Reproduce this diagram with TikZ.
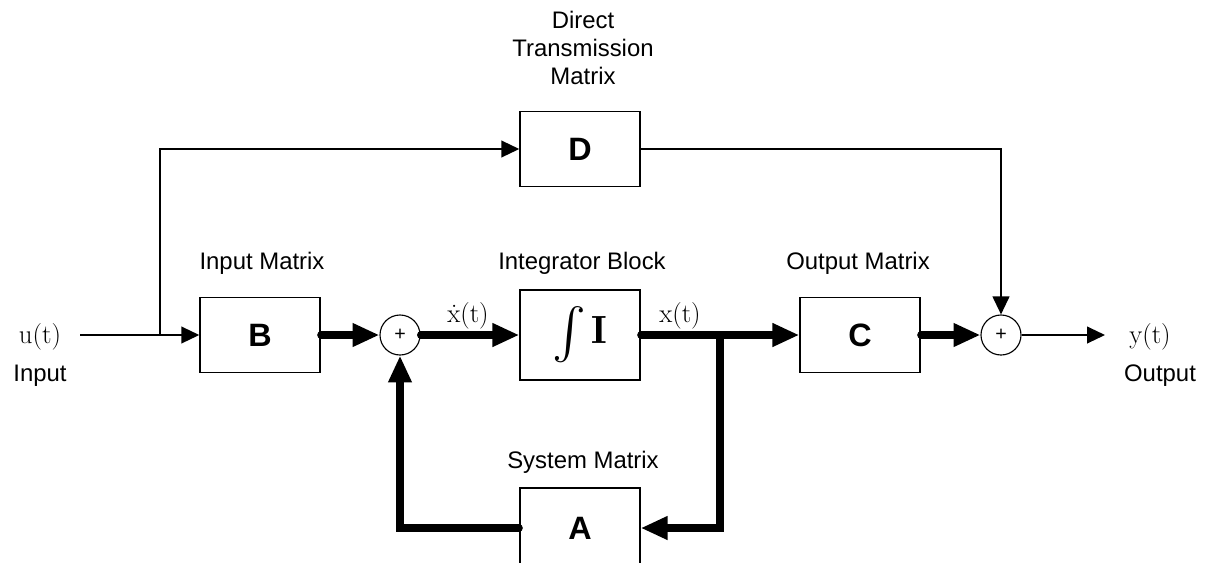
\documentclass[tikz,border=0pt]{standalone}
\usepackage{amsmath}
\usepackage{graphicx}
\usepackage{fontspec}
\setsansfont{Liberation Sans}
\usetikzlibrary{arrows.meta}
\begin{document}
\begin{tikzpicture}[x=0.025cm,y=-0.025cm,
  blk/.style={draw, line width=1pt, minimum width=3cm, minimum height=1.875cm, inner sep=0pt,
     font=\sffamily\bfseries\fontsize{23}{26}\selectfont},
  sumn/.style={draw, circle, minimum size=1cm, inner sep=0pt, line width=0.8pt,
     font=\sffamily\fontsize{14}{14}\selectfont},
  lbl/.style={font=\sffamily\fontsize{17}{20}\selectfont, inner sep=0pt},
  sig/.style={font=\fontsize{19}{22}\selectfont, inner sep=0pt},
  thinarr/.style={line width=1.2pt, -{Triangle[length=0.45cm,width=0.42cm]}},
  bus/.style={line width=5pt, line cap=round, -{Triangle[length=0.67cm,width=0.55cm]}}]
\useasboundingbox (0,0) rectangle (1210,562);
\clip (0,0) rectangle (1210,562);
% blocks
\node[blk] (B) at (260,335) {B};
\node[blk] (D) at (580,149) {D};
\node[blk, minimum height=2.25cm] (I) at (580,335) {\raisebox{-3pt}{\scalebox{1.45}{\fontsize{36}{40}\selectfont$\int$}}\,{\fontsize{28}{30}\selectfont$\mathbf{I}$}};
\node[blk] (C) at (860,335) {C};
\node[blk, minimum height=2cm] (A) at (580,528) {A};
\node[sumn] (s1) at (400,335) {+};
\node[sumn] (s2) at (1001,335) {+};
% labels
\node[lbl] (lB) at (262,263) {Input Matrix};
\node[lbl] (lI) at (582,263) {Integrator Block};
\node[lbl] (lC) at (858,263) {Output Matrix};
\node[lbl] (lA) at (583,462) {System Matrix};
\node[lbl, align=center, font=\sffamily\fontsize{17}{19.9}\selectfont] (lD) at (583,48) {Direct\\Transmission\\Matrix};
\node[sig] (ut) at (40,337) {u(t)};
\node[lbl] (uin) at (40,376) {Input};
\node[sig] (yt) at (1150,337) {y(t)};
\node[lbl] (yout) at (1160,376) {Output};
\node[sig] (xd) at (468,316) {\.{x}(t)};
\node[sig] (xt) at (680,316) {x(t)};
% coordinates
\coordinate (in) at (80,335);
\coordinate (bu) at (160,335);
\coordinate (br) at (720,335);
\coordinate (outend) at (1105,335);
% connectors
\draw[thinarr] (in) -- (B.west);
\draw[thinarr] (bu) |- (D.west);
\draw[thinarr] (D.east) -| (s2.north);
\draw[bus] (B.east) -- (s1.west);
\draw[bus] (s1.east) -- (I.west);
\draw[bus] (I.east) -- (C.west);
\draw[bus] (br) |- (A.east);
\draw[bus] (A.west) -| (s1.south);
\draw[bus] (C.east) -- (s2.west);
\draw[thinarr] (s2.east) -- (outend);
\end{tikzpicture}
\end{document}
